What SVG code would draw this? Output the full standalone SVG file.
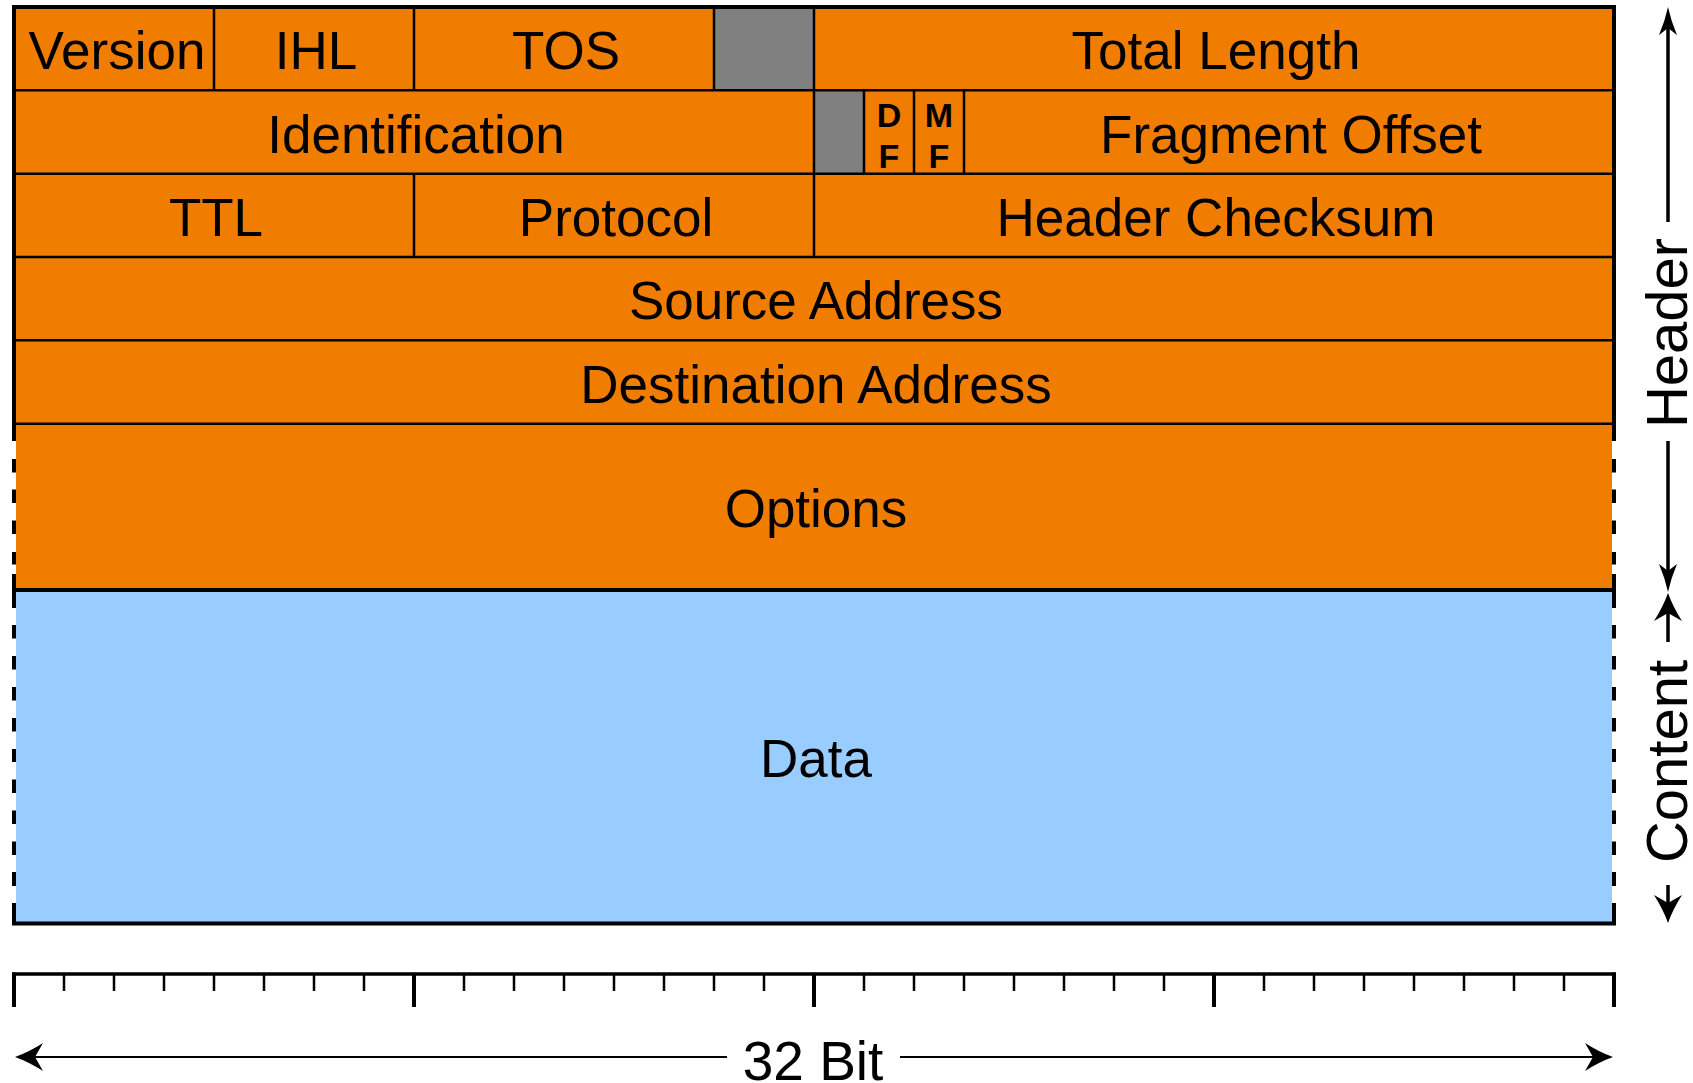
<svg xmlns="http://www.w3.org/2000/svg" width="1693" height="1083" viewBox="0 0 1693 1083">
<defs>
<style>
.lbl{font-family:"Liberation Sans",Arial,sans-serif;font-size:53px;fill:#000;text-anchor:middle}
.flag{font-family:"Liberation Sans",Arial,sans-serif;font-size:34px;font-weight:bold;fill:#000;text-anchor:middle}
.side{font-family:"Liberation Sans",Arial,sans-serif;font-size:58px;fill:#000;text-anchor:middle}
.bit{font-family:"Liberation Sans",Arial,sans-serif;font-size:55px;fill:#000;text-anchor:middle}
.orange{fill:#F07C00}
.gray{fill:#808080}
.blue{fill:#99CCFF}
.thin{stroke:#000;stroke-width:2.5;fill:none}
.thick{stroke:#000;stroke-width:4;fill:none}
.arr{stroke:#000;stroke-width:3.5;fill:none}
.arrthin{stroke:#000;stroke-width:2;fill:none}
</style>
<path id="headN" d="M0,0 Q3,14 9,28 L0,21 L-9,28 Q-3,14 0,0Z" fill="#000"/>
<path id="headW" d="M0,0 Q5,14 14,28 L0,20 L-14,28 Q-5,14 0,0Z" fill="#000"/>
</defs>
<rect width="1693" height="1083" fill="#fff"/>

<g id="header-rows">
<rect class="orange" x="14" y="7" width="1600" height="417"/>
<rect class="orange" x="16" y="424" width="1596" height="166"/>
</g>

<g id="version"><text class="lbl" x="117" y="69">Version</text></g>
<g id="ihl"><text class="lbl" x="316" y="69">IHL</text></g>
<g id="tos"><text class="lbl" x="566" y="69">TOS</text></g>
<g id="reserved1"><rect class="gray" x="714" y="7" width="100" height="83.3"/></g>
<g id="total-length"><text class="lbl" x="1216" y="69">Total Length</text></g>
<g id="identification"><text class="lbl" x="416" y="152.5">Identification</text></g>
<g id="reserved2"><rect class="gray" x="814" y="90.3" width="50" height="83.4"/></g>
<g id="df"><text class="flag" x="889" y="127">D</text><text class="flag" x="889" y="168">F</text></g>
<g id="mf"><text class="flag" x="939" y="127">M</text><text class="flag" x="939" y="168">F</text></g>
<g id="fragment-offset"><text class="lbl" x="1291" y="152.5">Fragment Offset</text></g>
<g id="ttl"><text class="lbl" x="216" y="236">TTL</text></g>
<g id="protocol"><text class="lbl" x="616" y="236">Protocol</text></g>
<g id="header-checksum"><text class="lbl" x="1216" y="236">Header Checksum</text></g>
<g id="source-address"><text class="lbl" x="816" y="319">Source Address</text></g>
<g id="destination-address"><text class="lbl" x="816" y="402.5">Destination Address</text></g>
<g id="options"><text class="lbl" x="816" y="527">Options</text></g>
<g id="data">
<rect class="blue" x="16" y="590" width="1596" height="333"/>
<text class="lbl" x="816" y="776.5">Data</text>
</g>

<g id="grid">
<path class="thin" d="M14 90.3H1614M14 173.7H1614M14 257H1614M14 340.3H1614M14 423.7H1614"/>
<path class="thin" d="M214 7V90.3M414 7V90.3M714 7V90.3M814 7V90.3M814 90.3V173.7M864 90.3V173.7M914 90.3V173.7M964 90.3V173.7M414 173.7V257M814 173.7V257"/>
<path class="thick" d="M14 441V7H1614V441"/>
<path class="thick" d="M12 590H1616M12 923.5H1616"/>
<path class="thick" d="M14 424V441M14 459V472.5M14 489.5V503M14 520.5V534M14 552V564.5M14 574V590M14 590V608M14 625V638.5M14 656V669.5M14 687V700.5M14 718V731.5M14 749V762M14 779.5V793M14 810.5V824M14 841.5V855M14 872V886M14 903V923"/>
<path class="thick" d="M1614 424V441M1614 459V472.5M1614 489.5V503M1614 520.5V534M1614 552V564.5M1614 574V590M1614 590V608M1614 625V638.5M1614 656V669.5M1614 687V700.5M1614 718V731.5M1614 749V762M1614 779.5V793M1614 810.5V824M1614 841.5V855M1614 872V886M1614 903V923"/>
</g>

<g id="ruler">
<path stroke="#000" stroke-width="3.5" fill="none" d="M12 974H1616"/>
<path stroke="#000" stroke-width="4" fill="none" d="M14 972.5V1007M414 974V1007M814 974V1007M1214 974V1007M1614 972.5V1007"/>
<path stroke="#000" stroke-width="2.5" fill="none" d="M64 974V991M114 974V991M164 974V991M214 974V991M264 974V991M314 974V991M364 974V991M464 974V991M514 974V991M564 974V991M614 974V991M664 974V991M714 974V991M764 974V991M864 974V991M914 974V991M964 974V991M1014 974V991M1064 974V991M1114 974V991M1164 974V991M1264 974V991M1314 974V991M1364 974V991M1414 974V991M1464 974V991M1514 974V991M1564 974V991"/>
</g>

<g id="connectors">
<path class="arr" d="M1668 20V222M1668 441V580"/>
<use href="#headN" transform="translate(1668,7)"/>
<use href="#headN" transform="translate(1668,592) rotate(180)"/>
<path class="arr" d="M1668 606V642M1668 885V910"/>
<use href="#headW" transform="translate(1668,593)"/>
<use href="#headW" transform="translate(1668,923) rotate(180)"/>
<path class="arrthin" d="M30 1057H727M900 1057H1600"/>
<use href="#headW" transform="translate(15,1057) rotate(-90)"/>
<use href="#headW" transform="translate(1613,1057) rotate(90)"/>
</g>

<g id="header-label"><text class="side" transform="translate(1687,333) rotate(-90)">Header</text></g>
<g id="content-label"><text class="side" transform="translate(1687,761.5) rotate(-90)">Content</text></g>
<g id="bit-label"><text class="bit" x="813" y="1080">32 Bit</text></g>
</svg>
